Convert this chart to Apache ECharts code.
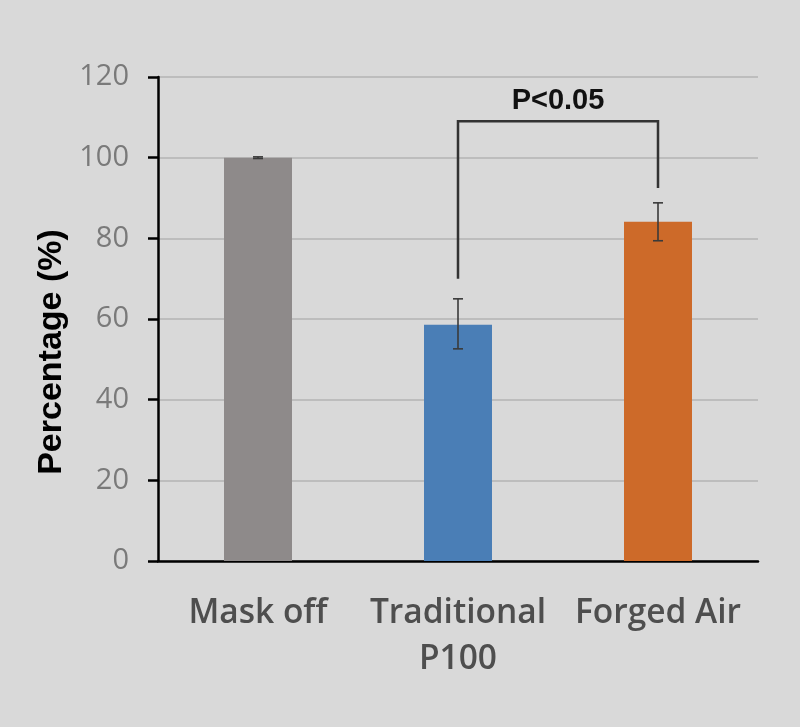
<!DOCTYPE html>
<html>
<head>
<meta charset="utf-8">
<script src="https://cdn.jsdelivr.net/npm/echarts@6/dist/echarts.min.js"></script>
<style>html,body{margin:0;padding:0;background:#d9d9d9;}#c{width:800px;height:727px;}</style>
</head>
<body>
<div id="c"></div>
<script>
var categories = ['Mask off', 'Traditional\nP100', 'Forged Air'];
var values = [100, 58.6, 84.1];
var errLow = [99.8, 52.6, 79.4];
var errHigh = [100.2, 65.0, 88.8];
var barColors = ['#8e8a8a', '#4a7eb6', '#cd6a29'];
var yTicks = [0, 20, 40, 60, 80, 100, 120];
var yTitle = 'Percentage (%)';
// significance bracket: [fromCategoryIndex, toCategoryIndex, fromLow, toLow, top]
var bracket = [1, 2, 70, 92.5, 109];
var bracketLabel = 'P<0.05';

var chart = echarts.init(document.getElementById('c'));
chart.setOption({
  backgroundColor: '#d9d9d9',
  animation: false,
  grid: { left: 158, right: 42, top: 77, bottom: 166 },
  graphic: [{
    type: 'text', x: 52, y: 352, rotation: Math.PI / 2,
    style: { text: yTitle, fill: '#000', font: 'bold 34px "Liberation Sans"',
             textAlign: 'center', textVerticalAlign: 'middle' }
  }],
  xAxis: {
    type: 'category',
    data: categories,
    axisLine: { lineStyle: { color: '#000', width: 2.5 } },
    axisTick: { show: false },
    axisLabel: {
      color: '#4e4e4e', fontFamily: 'Open Sans', fontWeight: 600, fontSize: 33.5,
      lineHeight: 46, margin: 29, interval: 0
    }
  },
  yAxis: {
    type: 'value', min: yTicks[0], max: yTicks[yTicks.length - 1], interval: 20,
    axisLine: { show: true, lineStyle: { color: '#000', width: 2.5 } },
    axisTick: { show: true, length: 10, lineStyle: { color: '#000', width: 2.5 } },
    axisLabel: { color: '#7a7a7a', fontFamily: 'Open Sans', fontSize: 29, margin: 29 },
    splitLine: { lineStyle: { color: '#bdbdbd', width: 2 } }
  },
  series: [
    {
      type: 'bar', barWidth: '34%',
      data: values.map(function (v, i) { return { value: v, itemStyle: { color: barColors[i] } }; }),
      z: 2
    },
    {
      type: 'custom', z: 5,
      data: values.map(function (v, i) { return [i, errLow[i], errHigh[i]]; }),
      renderItem: function (params, api) {
        var lo = api.coord([api.value(0), api.value(1)]);
        var hi = api.coord([api.value(0), api.value(2)]);
        var w = 5;
        var st = { stroke: '#3a3a3a', lineWidth: 1.6 };
        return { type: 'group', children: [
          { type: 'line', shape: { x1: lo[0], y1: lo[1], x2: hi[0], y2: hi[1] }, style: st },
          { type: 'line', shape: { x1: lo[0] - w, y1: lo[1], x2: lo[0] + w, y2: lo[1] }, style: st },
          { type: 'line', shape: { x1: hi[0] - w, y1: hi[1], x2: hi[0] + w, y2: hi[1] }, style: st }
        ] };
      }
    },
    {
      type: 'custom', z: 6,
      data: [bracket],
      renderItem: function (params, api) {
        var a = api.coord([api.value(0), api.value(2)]);
        var b = api.coord([api.value(1), api.value(3)]);
        var ta = api.coord([api.value(0), api.value(4)]);
        var tb = api.coord([api.value(1), api.value(4)]);
        return { type: 'group', children: [
          { type: 'polyline', shape: { points: [a, ta, tb, b] },
            style: { stroke: '#333', lineWidth: 2.5, fill: null } },
          { type: 'text', x: (ta[0] + tb[0]) / 2, y: ta[1] - 20,
            style: { text: bracketLabel, fill: '#111', font: 'bold 29px "Liberation Sans"',
                     textAlign: 'center', textVerticalAlign: 'middle' } }
        ] };
      }
    }
  ]
});
</script>
</body>
</html>
